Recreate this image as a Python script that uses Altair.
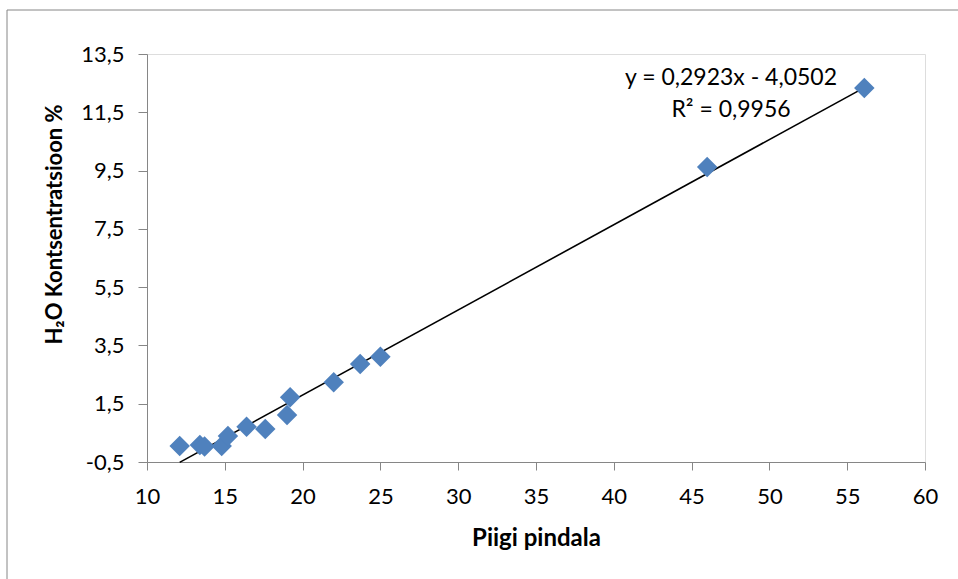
import altair as alt
import pandas as pd

# Data
pindala = [12.1, 13.4, 13.7, 14.8, 15.2, 16.4, 17.6, 19.0, 19.2, 22.0, 23.7, 25.0, 46.0, 56.1]
h2o = [0.05, 0.08, 0.03, 0.05, 0.39, 0.71, 0.63, 1.11, 1.72, 2.24, 2.86, 3.11, 9.62, 12.33]

# Trendline coefficients as printed on the chart
slope = 0.2923
intercept = -4.0502
eq_lines = ["y = 0,2923x - 4,0502", "R² = 0,9956"]

x_ticks = [10, 15, 20, 25, 30, 35, 40, 45, 50, 55, 60]
y_ticks = [-0.5, 1.5, 3.5, 5.5, 7.5, 9.5, 11.5, 13.5]

df = pd.DataFrame({"x": pindala, "y": h2o})
xmin, xmax = min(pindala), max(pindala)
trend = pd.DataFrame({"x": [xmin, xmax], "y": [slope * xmin + intercept, slope * xmax + intercept]})

FONT = "Lato"
GRAY = "#868686"

xscale = alt.Scale(domain=[10, 60], nice=False, zero=False)
yscale = alt.Scale(domain=[-0.5, 13.5], nice=False, zero=False)

xaxis = alt.Axis(values=x_ticks, title="Piigi pindala", grid=False, domainColor=GRAY, tickColor=GRAY,
                 tickSize=8, labelPadding=16, labelFontSize=22, labelFont=FONT, labelColor="black",
                 labelFlush=False, labelOverlap=False,
                 titleFont=FONT, titleFontSize=24, titleFontWeight="bold", titleColor="black",
                 titleBaseline="alphabetic", titleY=83)
yaxis = alt.Axis(values=y_ticks, title="H₂O Kontsentratsioon %", grid=False, domainColor=GRAY,
                 tickColor=GRAY, tickSize=9, labelPadding=14, labelFontSize=22, labelFont=FONT,
                 labelColor="black", format=".1f", labelFlush=False, labelOverlap=False,
                 labelExpr="replace(replace(datum.label, '.', ','), '−', '-')",
                 titleFont=FONT, titleFontSize=22, titleFontWeight="bold", titleColor="black",
                 titleAngle=-90, titleBaseline="alphabetic", titleAlign="center",
                 titleX=-86, titleY=170)

frame = alt.Chart(pd.DataFrame({"a": [0]})).mark_rect(fill=None, stroke=GRAY, strokeWidth=1).encode(
    x=alt.value(-140), x2=alt.value(830), y=alt.value(-44), y2=alt.value(540)
)

points = alt.Chart(df).mark_point(shape="diamond", filled=True, size=420, color="#4F81BD", opacity=1).encode(
    x=alt.X("x:Q", scale=xscale, axis=xaxis),
    y=alt.Y("y:Q", scale=yscale, axis=yaxis),
)

line = alt.Chart(trend).mark_line(color="black", strokeWidth=1.6).encode(
    x=alt.X("x:Q", scale=xscale), y=alt.Y("y:Q", scale=yscale)
)

eq1 = alt.Chart(pd.DataFrame({"t": [eq_lines[0]]})).mark_text(
    font=FONT, fontSize=23, color="black", align="center", baseline="middle"
).encode(text="t:N", x=alt.value(584), y=alt.value(24))
eq2 = alt.Chart(pd.DataFrame({"t": [eq_lines[1]]})).mark_text(
    font=FONT, fontSize=23, color="black", align="center", baseline="middle"
).encode(text="t:N", x=alt.value(584), y=alt.value(56))

chart = alt.layer(frame, line, points, eq1, eq2).properties(
    width=778, height=408,
    autosize=alt.AutoSizeParams(type="none"),
    padding={"left": 147, "top": 54, "right": 33, "bottom": 117},
).configure_view(stroke=None).configure(background="white")

chart.save("out.html", embed_options={"renderer": "svg", "actions": False})
